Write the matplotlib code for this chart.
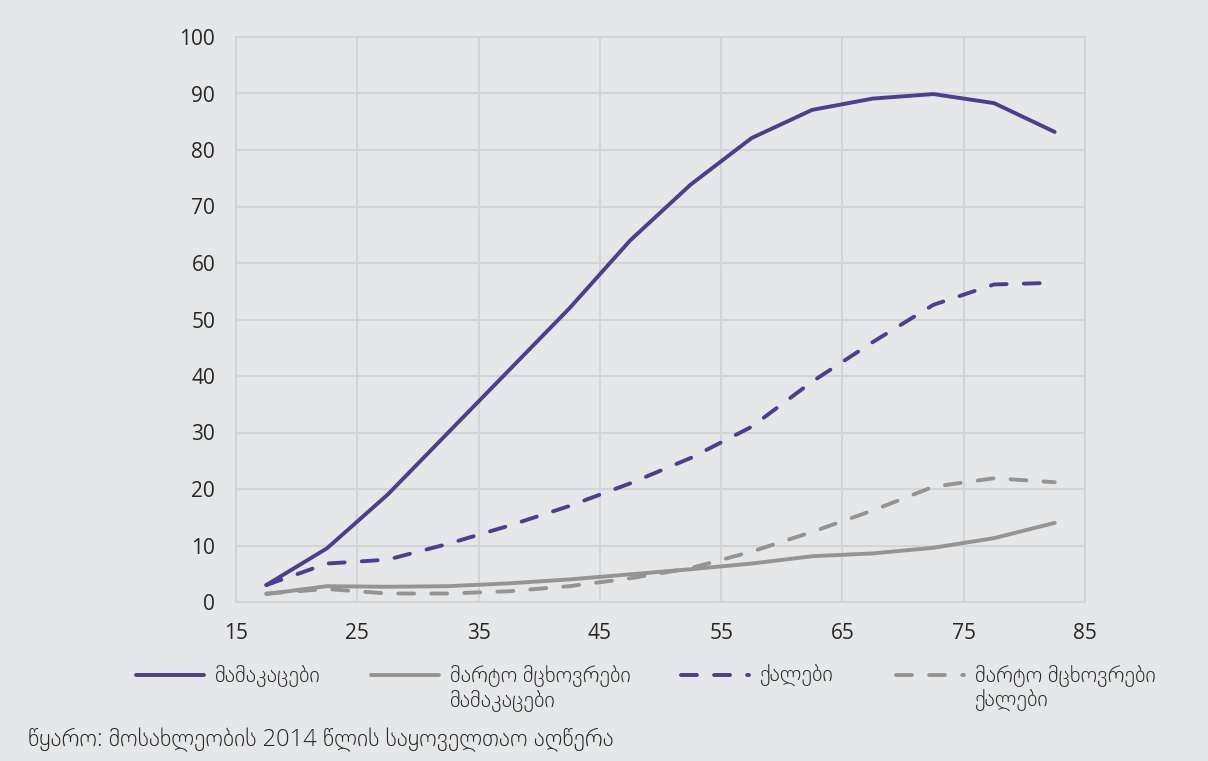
import matplotlib.pyplot as plt
from matplotlib.lines import Line2D

plt.rcParams['font.family'] = ['Open Sans', 'DejaVu Sans']

# age group midpoints
ages = [17.5, 22.5, 27.5, 32.5, 37.5, 42.5, 47.5, 52.5, 57.5, 62.5, 67.5, 72.5, 77.5, 82.5]

men = [3, 9.5, 19, 30, 41, 52, 64, 73.9, 82.1, 87.1, 89.1, 89.9, 88.3, 83.2]
single_men = [1.4, 2.8, 2.7, 2.8, 3.3, 4.0, 4.9, 5.8, 6.8, 8.1, 8.6, 9.6, 11.3, 14.0]
women = [3, 6.8, 7.5, 10.3, 13.5, 17.0, 21.0, 25.5, 31.0, 39.0, 46.0, 52.6, 56.2, 56.5]
single_women = [1.5, 2.3, 1.5, 1.5, 1.9, 2.8, 4.2, 6.0, 8.9, 12.4, 16.2, 20.4, 21.9, 21.2]

labels = ['მამაკაცები', 'მარტო მცხოვრები\nმამაკაცები', 'ქალები', 'მარტო მცხოვრები\nქალები']
source = 'წყარო: მოსახლეობის 2014 წლის საყოველთაო აღწერა'

purple = '#4D3F8C'
gray = '#949494'
bg = '#E6E7E9'
grid = '#D3D4D6'
txt = '#262626'

W, H = 1208, 761
fig = plt.figure(figsize=(W / 100, H / 100), dpi=100, facecolor=bg)
ax = fig.add_axes([236 / W, 1 - 602 / H, (1085 - 236) / W, (602 - 37) / H], facecolor=bg)

lw = 2.8
dash = (4.1, 4.4)
ax.plot(ages, men, color=purple, lw=lw, solid_capstyle='round')
ax.plot(ages, single_men, color=gray, lw=lw, solid_capstyle='round')
ax.plot(ages, women, color=purple, lw=lw, dashes=dash, dash_capstyle='round')
ax.plot(ages, single_women, color=gray, lw=lw, dashes=dash, dash_capstyle='round')

ax.set_xlim(15, 85)
ax.set_ylim(0, 100)
ax.set_xticks(range(15, 86, 10))
ax.set_yticks(range(0, 101, 10))
ax.grid(True, color=grid, lw=1.5)
ax.set_axisbelow(True)
for s in ax.spines.values():
    s.set_color(grid)
    s.set_linewidth(1.5)
ax.tick_params(length=0, labelsize=15, colors=txt)
ax.tick_params(axis='y', pad=15)
ax.tick_params(axis='x', pad=15)

# legend drawn by hand so the sample lines sit on the first text line
styles = [
    dict(color=purple),
    dict(color=gray),
    dict(color=purple, dashes=dash, dash_capstyle='round'),
    dict(color=gray, dashes=dash, dash_capstyle='round'),
]
starts = [136, 371, 681, 896]
for x, lab, st in zip(starts, labels, styles):
    y0 = 1 - 675 / H
    fig.add_artist(Line2D([x / W, (x + 68) / W], [y0, y0], transform=fig.transFigure,
                          lw=lw, solid_capstyle='round', **st))
    for i, line in enumerate(lab.split('\n')):
        fig.text((x + 79) / W, 1 - (675 + 25 * i) / H, line, fontsize=16, color=txt,
                 va='center', fontweight='light')

fig.text(28 / W, 1 - 740 / H, source, fontsize=17, color=txt, va='center',
         fontweight='light')

fig.savefig('out.png', dpi=100, facecolor=bg)
